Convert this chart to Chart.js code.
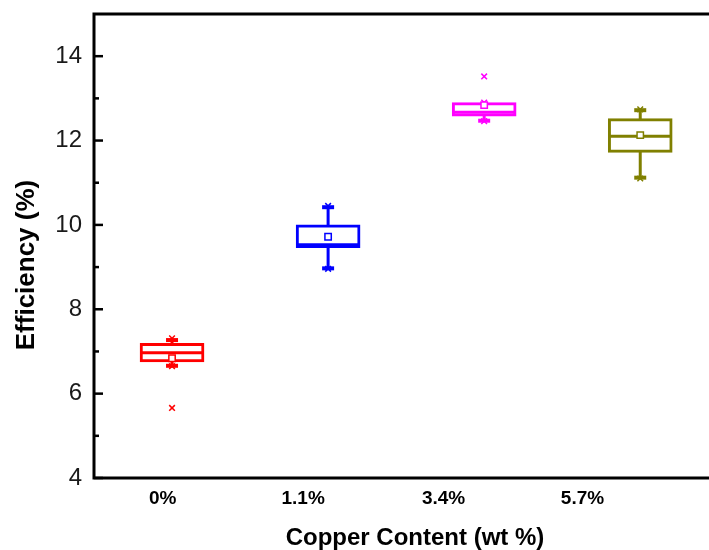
<!DOCTYPE html>
<html><head><meta charset="utf-8">
<script src="https://cdn.jsdelivr.net/npm/chart.js@4.4.1/dist/chart.umd.min.js"></script>
<style>html,body{margin:0;padding:0;overflow:hidden;background:#fff;width:709px;height:550px}canvas{display:block}</style>
</head><body><canvas id="c" width="740" height="550" style="width:740px;height:550px"></canvas>
<script>
const categories = ['0%', '1.1%', '3.4%', '5.7%'];
const positions = [1, 2, 3, 4];
const labelPositions = [0.94, 1.84, 2.74, 3.63];
const q1Values = [6.75, 9.46, 12.58, 11.72];
const q3Values = [7.19, 10.00, 12.90, 12.52];
const medianValues = [6.97, 9.53, 12.67, 12.10];
const meanValues = [6.84, 9.72, 12.84, 12.13];
const whiskerLow = [6.66, 8.97, 12.47, 11.12];
const whiskerHigh = [7.27, 10.42, 12.90, 12.72];
const minValues = [6.65, 8.96, 12.46, 11.10];
const maxValues = [7.31, 10.45, 12.90, 12.74];
const outliers = [[5.66], [], [13.52], []];
const colors = ['#ff0000', '#0000ff', '#ff00ff', '#808000'];
const yTicks = [4, 6, 8, 10, 12, 14];
const yMinorTicks = [5, 7, 9, 11, 13];

const FONT = "'Liberation Sans', Arial, sans-serif";

const datasets = [];
positions.forEach((p, i) => {
  datasets.push({
    type: 'line', data: [{x: p, y: whiskerLow[i]}, {x: p, y: whiskerHigh[i]}],
    borderColor: colors[i], borderWidth: 3, pointRadius: 0, order: 6
  });
});
datasets.push({
  type: 'bar',
  data: positions.map((p, i) => ({x: p, y: [q1Values[i], q3Values[i]]})),
  backgroundColor: '#ffffff', borderColor: colors, borderWidth: 3,
  borderSkipped: false, barThickness: 64, order: 3
});
datasets.push({
  type: 'scatter',
  data: positions.map((p, i) => ({x: p, y: medianValues[i]})),
  pointStyle: 'line', pointRadius: 31, pointBorderWidth: 3, pointBorderColor: colors,
  pointHoverRadius: 31, order: 2
});
const capData = [], capColors = [];
positions.forEach((p, i) => {
  capData.push({x: p, y: whiskerLow[i]}); capColors.push(colors[i]);
  if (whiskerHigh[i] > q3Values[i]) { capData.push({x: p, y: whiskerHigh[i]}); capColors.push(colors[i]); }
});
datasets.push({
  type: 'scatter', data: capData, pointStyle: 'line', pointRadius: 6,
  pointBorderWidth: 4, pointBorderColor: capColors, order: 1
});
const mmData = [], mmColors = [];
positions.forEach((p, i) => {
  mmData.push({x: p, y: minValues[i]}); mmColors.push(colors[i]);
  mmData.push({x: p, y: maxValues[i]}); mmColors.push(colors[i]);
  outliers[i].forEach(v => { mmData.push({x: p, y: v}); mmColors.push(colors[i]); });
});
datasets.push({
  type: 'scatter', data: mmData, pointStyle: 'crossRot', pointRadius: 4,
  pointBorderWidth: 1.5, pointBorderColor: mmColors, order: 1
});
datasets.push({
  type: 'scatter',
  data: positions.map((p, i) => ({x: p, y: meanValues[i]})),
  pointStyle: 'rect', pointRadius: 4.5, pointBorderWidth: 1.5,
  pointBackgroundColor: '#ffffff', pointBorderColor: colors, order: 0
});

const framePlugin = {
  id: 'frame',
  afterDatasetsDraw(chart) {
    const {ctx, chartArea: a, scales: {y}} = chart;
    ctx.save();
    ctx.strokeStyle = '#000';
    ctx.lineWidth = 2.5;
    yTicks.forEach(v => {
      const py = y.getPixelForValue(v);
      ctx.beginPath(); ctx.moveTo(a.left, py); ctx.lineTo(a.left + 9, py); ctx.stroke();
    });
    yMinorTicks.forEach(v => {
      const py = y.getPixelForValue(v);
      ctx.beginPath(); ctx.moveTo(a.left, py); ctx.lineTo(a.left + 5, py); ctx.stroke();
    });
    ctx.lineWidth = 3;
    ctx.beginPath();
    ctx.moveTo(a.left, a.top); ctx.lineTo(a.right, a.top); ctx.lineTo(a.right, a.bottom);
    ctx.lineTo(a.left, a.bottom); ctx.closePath(); ctx.stroke();
    ctx.fillStyle = '#000';
    ctx.textAlign = 'center'; ctx.textBaseline = 'middle';
    ctx.font = "bold 24px " + FONT;
    ctx.fillText('Copper Content (wt %)', 415, 538);
    ctx.translate(27, 265);
    ctx.rotate(-Math.PI / 2);
    ctx.font = "bold 26px " + FONT;
    ctx.fillText('Efficiency (%)', 0, 0);
    ctx.restore();
  }
};

new Chart(document.getElementById('c'), {
  type: 'bar',
  data: {datasets},
  options: {
    responsive: false, animation: false,
    layout: {autoPadding: false, padding: {top: 14, left: 0, right: 3, bottom: 0}},
    plugins: {legend: {display: false}, tooltip: {enabled: false}},
    scales: {
      x: {
        type: 'linear', min: 0.5, max: 4.62, offset: false,
        grid: {display: false, drawTicks: false, offset: false}, border: {display: false},
        afterFit(s) { s.height = 72; s.paddingLeft = 0; s.paddingRight = 0; s.paddingTop = 0; s.paddingBottom = 0; },
        afterBuildTicks(s) { s.ticks = labelPositions.map(v => ({value: v})); },
        ticks: {
          autoSkip: false, maxRotation: 0, padding: 9, color: '#000',
          font: {family: FONT, size: 19, weight: 'bold'},
          callback: (v, i) => categories[i]
        }
      },
      y: {
        type: 'linear', min: 4, max: 15, beginAtZero: false,
        grid: {display: false, drawTicks: false}, border: {display: false},
        afterFit(s) { s.width = 94; s.paddingLeft = 0; s.paddingRight = 0; s.paddingTop = 0; s.paddingBottom = 0; },
        afterBuildTicks(s) { s.ticks = yTicks.map(v => ({value: v})); },
        ticks: {padding: 12, color: '#1a1a1a', font: {family: FONT, size: 24}}
      }
    }
  },
  plugins: [framePlugin]
});
</script></body></html>
